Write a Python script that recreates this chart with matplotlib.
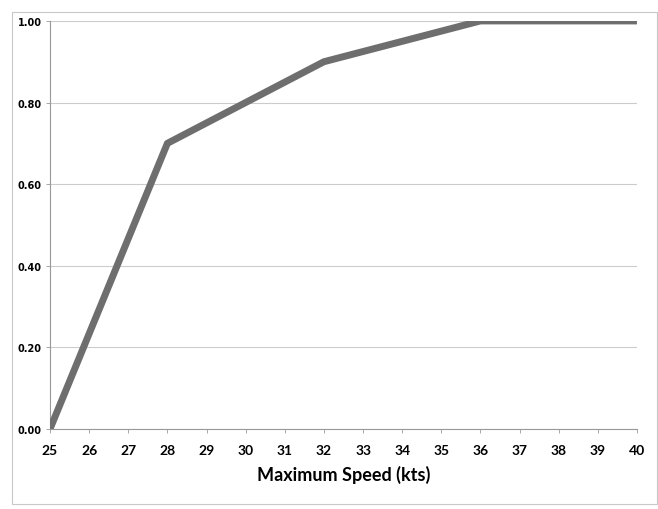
import matplotlib.pyplot as plt
from matplotlib.patches import Rectangle

speed = [25, 28, 30, 32, 34, 36, 40]
fraction = [0.0, 0.70, 0.80, 0.90, 0.95, 1.0, 1.0]
x_ticks = list(range(25, 41))
y_ticks = [0.0, 0.2, 0.4, 0.6, 0.8, 1.0]

fig = plt.figure(figsize=(6.58, 5.10), dpi=100)
ax = fig.add_axes([0.076, 0.157, 0.892, 0.80])

# outer chart frame
fig.patches.append(Rectangle((0.018, 0.01), 0.98, 0.965, transform=fig.transFigure,
                             fill=False, edgecolor="#c8c8c8", linewidth=0.8))

ax.plot(speed, fraction, color="#6e6e6e", linewidth=5, solid_capstyle="butt", zorder=3)

ax.set_xlim(25, 40)
ax.set_ylim(0, 1.0)
ax.set_xticks(x_ticks)
ax.set_yticks(y_ticks)
ax.set_yticklabels([f"{v:.2f}" for v in y_ticks], fontsize=7, fontweight="bold",
                   family="DejaVu Sans")
ax.set_xticklabels([str(v) for v in x_ticks], fontsize=10, fontweight="bold", family="Lato")
ax.tick_params(axis="x", length=3, width=0.6, color="#999999", pad=8)
ax.tick_params(axis="y", length=3, width=0.6, color="#999999", pad=3)

ax.grid(axis="y", color="#cccccc", linewidth=0.8)
ax.set_axisbelow(True)
for side in ["top", "right"]:
    ax.spines[side].set_visible(False)
for side in ["left", "bottom"]:
    ax.spines[side].set_color("#999999")
    ax.spines[side].set_linewidth(0.8)

ax.set_xlabel("Maximum Speed (kts)", fontsize=13, fontweight="bold", family="Lato", labelpad=6)

fig.savefig("out.png", dpi=100)
